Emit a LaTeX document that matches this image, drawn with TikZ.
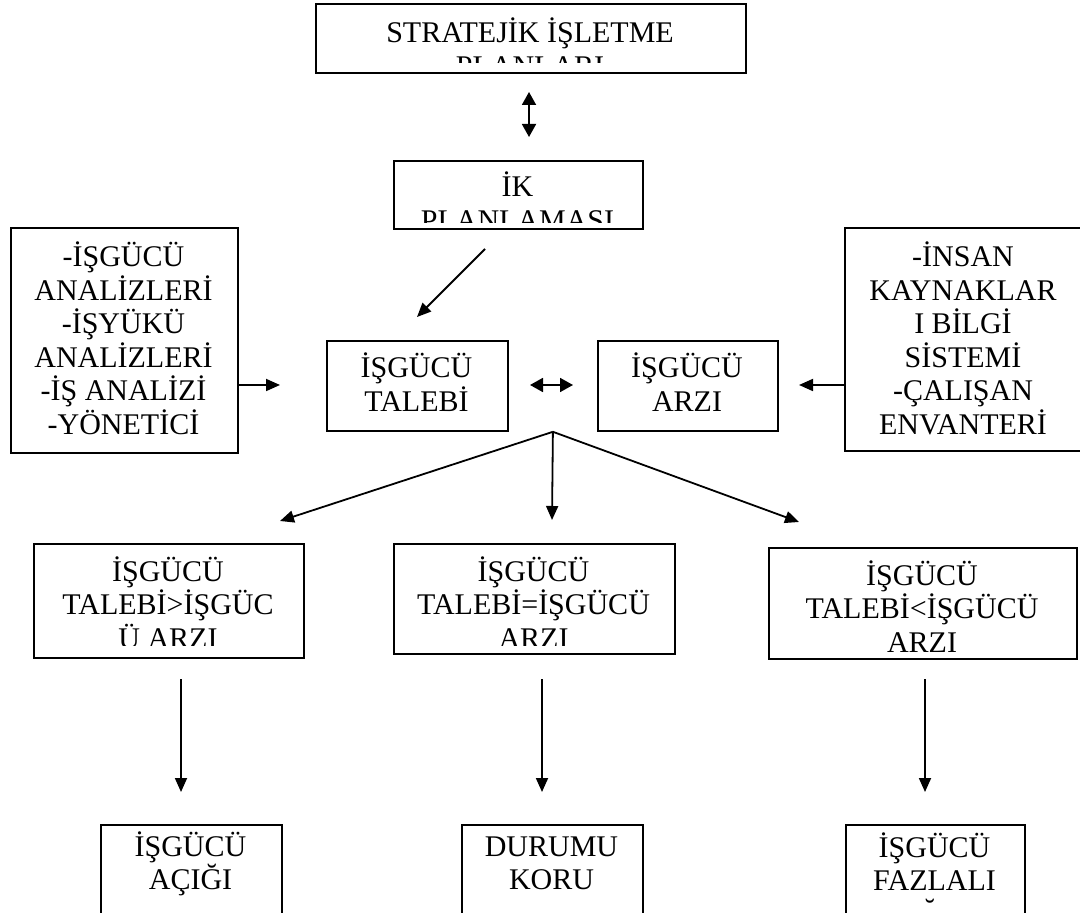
\documentclass[tikz,border=0pt]{standalone}
\usepackage{fontspec}
\setmainfont{Liberation Serif}
\usetikzlibrary{arrows.meta,calc}

\tikzset{
  kutu/.style={draw, line width=0.9pt, inner sep=0pt, anchor=north west},
  yazi/.style={align=center, anchor=base, inner sep=0pt, font=\fontsize{15}{16.75}\selectfont},
  ok/.style={-{Triangle[length=7pt,width=6pt]}, line width=0.9pt},
  ciftok/.style={{Triangle[length=6.5pt,width=7pt]}-{Triangle[length=6.5pt,width=7pt]}, line width=0.9pt}
}

\begin{document}
\begin{tikzpicture}[x=0.5pt,y=-0.5pt]
\clip (0,0) rectangle (1080,913);
\fill[white] (0,0) rectangle (1080,913);

% ust kisim (yazilar son satirin tabanina yerlesir)
\node[kutu, minimum width=215pt, minimum height=34.5pt] (strateji) at (315,3) {};
\begin{scope}
  \clip (315,3) rectangle (745,63);
  \node[yazi] (strateji-y) at (530,76.5) {STRATEJİK İŞLETME\\PLANLARI};
\end{scope}

\node[kutu, minimum width=124.5pt, minimum height=34pt] (ik) at (393,160) {};
\begin{scope}
  \clip (393,160) rectangle (642,223);
  \node[yazi] (ik-y) at (517.5,230.5) {İK\\PLANLAMASI};
\end{scope}

\node[kutu, minimum width=113.5pt, minimum height=112.5pt] (solkutu) at (10,227) {};
\node[yazi] (solkutu-y) at (123.5,434.5) {-İŞGÜCÜ\\ANALİZLERİ\\-İŞYÜKÜ\\ANALİZLERİ\\-İŞ ANALİZİ\\-YÖNETİCİ};

\node[kutu, minimum width=119pt, minimum height=111.5pt] (sagkutu) at (844,227) {};
\node[yazi] (sagkutu-y) at (963,434.5) {-İNSAN\\KAYNAKLAR\\I BİLGİ\\SİSTEMİ\\-ÇALIŞAN\\ENVANTERİ};

\node[kutu, minimum width=90.5pt, minimum height=45pt] (talep) at (326,340) {};
\node[yazi] (talep-y) at (416.5,411.5) {İŞGÜCÜ\\TALEBİ};

\node[kutu, minimum width=90pt, minimum height=45pt] (arz) at (597,340) {};
\node[yazi] (arz-y) at (687,411.5) {İŞGÜCÜ\\ARZI};

% durumlar
\node[kutu, minimum width=135pt, minimum height=57pt] (acikdurum) at (33,543) {};
\begin{scope}
  \clip (33,543) rectangle (303,645);
  \node[yazi] (acikdurum-y) at (168,648) {İŞGÜCÜ\\TALEBİ>İŞGÜC\\Ü ARZI};
\end{scope}

\node[kutu, minimum width=140.5pt, minimum height=55pt] (esitdurum) at (393,543) {};
\begin{scope}
  \clip (393,543) rectangle (674,645);
  \node[yazi] (esitdurum-y) at (533.5,648) {İŞGÜCÜ\\TALEBİ=İŞGÜCÜ\\ARZI};
\end{scope}

\node[kutu, minimum width=154pt, minimum height=55.5pt] (fazladurum) at (768,547) {};
\begin{scope}
  \clip (768,547) rectangle (1076,652);
  \node[yazi] (fazladurum-y) at (922,652) {İŞGÜCÜ\\TALEBİ<İŞGÜCÜ\\ARZI};
\end{scope}

% sonuclar
\node[kutu, minimum width=90.5pt, minimum height=60pt] (acik) at (100,824) {};
\node[yazi] (acik-y) at (190.5,889.5) {İŞGÜCÜ\\AÇIĞI};

\node[kutu, minimum width=90.5pt, minimum height=60pt] (koru) at (461,824) {};
\node[yazi] (koru-y) at (551.5,889.5) {DURUMU\\KORU};

\node[kutu, minimum width=89.5pt, minimum height=60pt] (fazla) at (845,824) {};
\begin{scope}
  \clip (845,824) rectangle (1024,903);
  \node[yazi] (fazla-y) at (934.5,924) {İŞGÜCÜ\\FAZLALI\\ĞI};
\end{scope}

% oklar
\coordinate (s1) at (529,92);
\coordinate (s2) at (529,137);
\draw[ciftok] (s1) -- (s2);

\coordinate (d1) at (485,249);
\coordinate (d2) at (417,317);
\draw[ok] (d1) -- (d2);

\coordinate (solok) at (280,385);
\coordinate (sagok) at (799,385);
\draw[ok] (solok -| solkutu.east) -- (solok);
\draw[ok] (sagok -| sagkutu.west) -- (sagok);

\coordinate (h1) at (530,385);
\coordinate (h2) at (573,385);
\draw[ciftok] (h1) -- (h2);

\coordinate (tepe) at ($(talep.south east)!0.5!(arz.south west)$);
\coordinate (u1) at (280,521);
\coordinate (u2) at (552,520);
\coordinate (u3) at (799,522);
\draw[ok] (tepe) -- (u1);
\draw[ok] (tepe) -- (u2);
\draw[ok] (tepe) -- (u3);

\foreach \x/\n in {181/a, 542/b, 925/c} {
  \coordinate (\n1) at (\x,679);
  \coordinate (\n2) at (\x,792);
  \draw[ok] (\n1) -- (\n2);
}
\end{tikzpicture}
\end{document}
